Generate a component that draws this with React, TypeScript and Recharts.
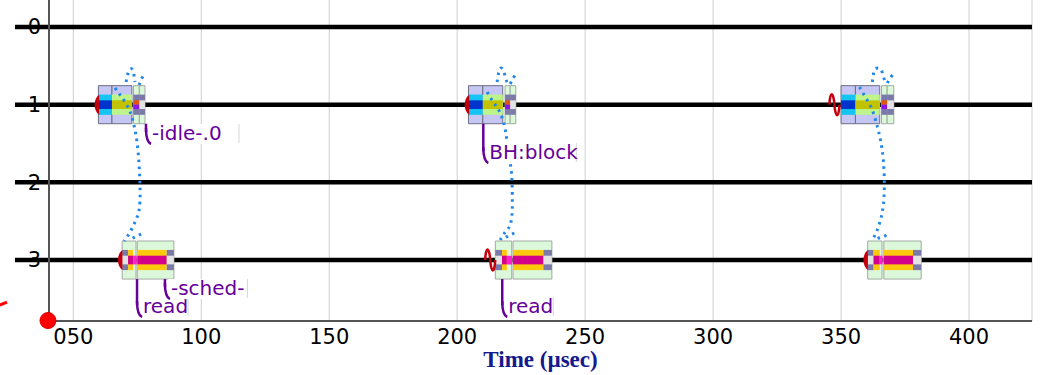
import React from 'react';
import {
  ComposedChart, XAxis, YAxis, CartesianGrid, ReferenceArea, ReferenceLine,
  ReferenceDot, Line, Scatter, Label,
} from 'recharts';

const CPUS = [0, 1, 2, 3];
const TIME_TICKS = [50, 100, 150, 200, 250, 300, 350, 400];
const T_MIN = 40.5;
const T_MAX = 424.6;
const ROW_MIN = -0.348;
const ROW_MAX = 3.785;
const LINE_START = 27.2;

// outer frames of each slice group
const frames = [
  { row: 1, start: 59.8, end: 65.1, kind: 'lav' },
  { row: 1, start: 65.1, end: 72.9, kind: 'lav' },
  { row: 1, start: 73.5, end: 75.8, kind: 'mint' },
  { row: 1, start: 75.8, end: 78.0, kind: 'mint' },
  { row: 1, start: 204.4, end: 210.0, kind: 'lav' },
  { row: 1, start: 210.0, end: 217.8, kind: 'lav' },
  { row: 1, start: 218.7, end: 220.7, kind: 'mint' },
  { row: 1, start: 220.7, end: 222.9, kind: 'mint' },
  { row: 1, start: 350.0, end: 355.6, kind: 'lav' },
  { row: 1, start: 355.6, end: 365.1, kind: 'lav' },
  { row: 1, start: 365.8, end: 368.0, kind: 'mint' },
  { row: 1, start: 368.0, end: 370.6, kind: 'mint' },
  { row: 3, start: 69.1, end: 74.5, kind: 'mint' },
  { row: 3, start: 75.0, end: 89.3, kind: 'mint' },
  { row: 3, start: 214.9, end: 221.3, kind: 'mint' },
  { row: 3, start: 221.8, end: 237.0, kind: 'mint' },
  { row: 3, start: 360.4, end: 366.0, kind: 'mint' },
  { row: 3, start: 366.7, end: 381.3, kind: 'mint' },
];

// coloured slices inside the frames
const slices = [
  { row: 1, start: 59.8, end: 65.1, kind: 'blue' },
  { row: 1, start: 65.1, end: 72.9, kind: 'olive' },
  { row: 1, start: 73.5, end: 75.8, kind: 'split' },
  { row: 1, start: 75.8, end: 78.0, kind: 'idle' },
  { row: 1, start: 204.4, end: 210.0, kind: 'blue' },
  { row: 1, start: 210.0, end: 217.8, kind: 'olive' },
  { row: 1, start: 218.7, end: 220.7, kind: 'split' },
  { row: 1, start: 220.7, end: 222.9, kind: 'idle' },
  { row: 1, start: 350.0, end: 355.6, kind: 'blue' },
  { row: 1, start: 355.6, end: 365.1, kind: 'olive' },
  { row: 1, start: 365.8, end: 368.0, kind: 'split' },
  { row: 1, start: 368.0, end: 370.6, kind: 'idle' },
  { row: 3, start: 69.1, end: 71.4, kind: 'idle' },
  { row: 3, start: 71.4, end: 73.4, kind: 'run' },
  { row: 3, start: 73.4, end: 74.8, kind: 'wake' },
  { row: 3, start: 75.0, end: 86.5, kind: 'run' },
  { row: 3, start: 86.5, end: 89.3, kind: 'idle' },
  { row: 3, start: 214.9, end: 217.5, kind: 'idle' },
  { row: 3, start: 217.5, end: 219.4, kind: 'run' },
  { row: 3, start: 219.4, end: 221.5, kind: 'wake' },
  { row: 3, start: 221.8, end: 233.7, kind: 'run' },
  { row: 3, start: 233.7, end: 237.0, kind: 'idle' },
  { row: 3, start: 360.4, end: 362.7, kind: 'idle' },
  { row: 3, start: 362.7, end: 365.1, kind: 'run' },
  { row: 3, start: 365.1, end: 366.2, kind: 'wake' },
  { row: 3, start: 366.7, end: 378.1, kind: 'run' },
  { row: 3, start: 378.1, end: 381.3, kind: 'idle' },
];

// dotted wakeup arcs (time, cpu row)
const wakeCurves = [
  [{ t: 66.3, row: 0.785 }, { t: 68.3, row: 0.876 }, { t: 70.2, row: 0.966 }, { t: 72.2, row: 1.094 }, { t: 73.7, row: 1.262 }, { t: 74.9, row: 1.481 }, { t: 75.7, row: 1.777 }, { t: 76.1, row: 2.099 }, { t: 75.7, row: 2.356 }, { t: 74.1, row: 2.511 }, { t: 72.2, row: 2.639 }, { t: 69.8, row: 2.755 }],
  [{ t: 70.6, row: 0.708 }, { t: 71.2, row: 0.618 }, { t: 72.0, row: 0.547 }, { t: 73.1, row: 0.547 }, { t: 73.7, row: 0.618 }, { t: 74.1, row: 0.708 }],
  [{ t: 75.7, row: 0.747 }, { t: 76.5, row: 0.682 }, { t: 77.4, row: 0.618 }],
  [{ t: 76.5, row: 2.665 }, { t: 74.9, row: 2.691 }, { t: 73.3, row: 2.717 }, { t: 71.8, row: 2.755 }],
  [{ t: 211.7, row: 0.837 }, { t: 214.1, row: 0.966 }, { t: 216.8, row: 1.107 }, { t: 218.8, row: 1.326 }, { t: 219.9, row: 1.584 }, { t: 221.1, row: 1.841 }, { t: 221.5, row: 2.099 }, { t: 221.5, row: 2.356 }, { t: 220.7, row: 2.549 }, { t: 218.8, row: 2.639 }, { t: 216.8, row: 2.742 }],
  [{ t: 215.6, row: 0.708 }, { t: 216.0, row: 0.618 }, { t: 216.8, row: 0.534 }, { t: 218.0, row: 0.554 }, { t: 218.8, row: 0.644 }, { t: 219.6, row: 0.721 }],
  [{ t: 220.7, row: 0.734 }, { t: 221.9, row: 0.657 }, { t: 222.7, row: 0.618 }],
  [{ t: 222.3, row: 2.652 }, { t: 220.7, row: 2.678 }, { t: 219.2, row: 2.704 }, { t: 217.6, row: 2.742 }],
  [{ t: 357.2, row: 0.773 }, { t: 359.5, row: 0.901 }, { t: 362.2, row: 1.069 }, { t: 364.2, row: 1.288 }, { t: 365.4, row: 1.455 }, { t: 366.5, row: 1.712 }, { t: 366.9, row: 2.034 }, { t: 366.5, row: 2.292 }, { t: 365.4, row: 2.485 }, { t: 363.8, row: 2.639 }, { t: 362.2, row: 2.742 }],
  [{ t: 362.2, row: 0.708 }, { t: 362.6, row: 0.618 }, { t: 363.4, row: 0.541 }, { t: 365.4, row: 0.541 }, { t: 366.5, row: 0.631 }, { t: 367.3, row: 0.708 }],
  [{ t: 368.1, row: 0.721 }, { t: 368.9, row: 0.670 }, { t: 370.1, row: 0.618 }],
  [{ t: 367.7, row: 2.678 }, { t: 366.2, row: 2.704 }, { t: 364.6, row: 2.717 }, { t: 363.0, row: 2.742 }],
];

const markers = [
  { t: 59.3, row: 1, kind: 'arc' },
  { t: 203.9, row: 1, kind: 'arc' },
  { t: 347.4, row: 1, kind: 'wave' },
  { t: 68.4, row: 3, kind: 'arc' },
  { t: 212.9, row: 3, kind: 'wave' },
  { t: 359.7, row: 3, kind: 'arc' },
];

const tags = [
  { t: 78.4, row: 1, base: 1.455, text: '-idle-.0' },
  { t: 210.2, row: 1, base: 1.70, text: 'BH:block' },
  { t: 74.9, row: 3, base: 3.682, text: 'read' },
  { t: 85.8, row: 3, base: 3.451, text: '-sched-' },
  { t: 217.6, row: 3, base: 3.682, text: 'read' },
];

const FRAME_STYLE: Record<string, { fill: string; stroke: string }> = {
  lav: { fill: '#c6c6f5', stroke: '#6e6e82' },
  mint: { fill: '#dcf8da', stroke: '#a2aaa2' },
};

const SLICE_STYLE: Record<string, { band: string | null; core: string[] }> = {
  blue: { band: '#14c4f2', core: ['#0034cc'] },
  olive: { band: '#bef58a', core: ['#c2c200'] },
  split: { band: '#7b79a8', core: ['#e0560a', '#8c14e6'] },
  idle: { band: '#7b79a8', core: ['#e3e3e3'] },
  run: { band: '#ffc80c', core: ['#d2008a'] },
  wake: { band: null, core: ['#ff1ecd'] },
};

const OUTER = 0.245;
const BAND = 0.13;
const CORE = 0.056;
const PURPLE = '#660099';
const FONT = 'DejaVu Sans';

function MarkerShape(props: any) {
  const { cx, cy, payload } = props;
  if (payload.kind === 'wave') {
    return (
      <path
        d={`M${cx - 5},${cy} C${cx - 4.5},${cy - 14} ${cx - 1},${cy - 14} ${cx},${cy} S${cx + 4.5},${cy + 14} ${cx + 5},${cy}`}
        fill="none" stroke="#c4000c" strokeWidth={2.5}
      />
    );
  }
  return <path d={`M${cx + 2},${cy - 10} C${cx - 4},${cy - 6} ${cx - 4},${cy + 6} ${cx + 2},${cy + 10} Z`} fill="#c4000c" />;
}

function TagShape(props: any) {
  const { cx, cy, payload } = props;
  const w = payload.text.length * 10.5 + 6;
  return (
    <g>
      <rect x={cx + 3} y={cy - 16} width={w} height={20} fill="#fff" />
      <line x1={cx + 3 + w} y1={cy - 16} x2={cx + 3 + w} y2={cy + 3} stroke="#d6d6d6" />
      <path d={`M${cx},${cy - 12} Q${cx},${cy + 2} ${cx + 5},${cy + 4}`} fill="none" stroke={PURPLE} strokeWidth={2.5} />
      <text x={cx + 6} y={cy} fontSize={20} fontFamily={FONT} fill={PURPLE}>{payload.text}</text>
    </g>
  );
}

export default function App() {
  return (
    <div style={{ position: 'absolute', left: 0, top: 0 }}>
      <ComposedChart width={1046} height={375} margin={{ top: 0, right: 14, bottom: 0, left: 0 }}>
        <CartesianGrid horizontal={false} stroke="#cfcfcf" />
        <XAxis
          type="number" dataKey="t" domain={[T_MIN, T_MAX]} allowDataOverflow ticks={TIME_TICKS} interval={0}
          tickFormatter={(v) => String(v).padStart(3, '0')}
          tick={{ fontSize: 21, fill: '#000', fontFamily: FONT }} tickLine={false}
          axisLine={{ stroke: '#555', strokeWidth: 2 }} height={54}
        >
          <Label value="Time (µsec)" position="insideBottom" offset={8}
            style={{ fontSize: 23, fontWeight: 'bold', fontFamily: 'Liberation Serif', fill: '#14198c' }} />
        </XAxis>
        <YAxis
          type="number" dataKey="row" domain={[ROW_MIN, ROW_MAX]} reversed allowDataOverflow ticks={CPUS} interval={0}
          tick={{ fontSize: 21, fill: '#000', fontFamily: FONT }} tickLine={false}
          axisLine={{ stroke: '#555', strokeWidth: 2 }} width={49}
        />

        {CPUS.map((c) => (
          <ReferenceArea key={`cpu${c}`} x1={LINE_START} x2={T_MAX} y1={c - 0.029} y2={c + 0.029}
            fill="#000" fillOpacity={1} ifOverflow="visible" />
        ))}

        {frames.map((f, i) => (
          <ReferenceArea key={`f${i}`} x1={f.start} x2={f.end} y1={f.row - OUTER} y2={f.row + OUTER}
            fill={FRAME_STYLE[f.kind].fill} fillOpacity={1} stroke={FRAME_STYLE[f.kind].stroke} strokeWidth={1} />
        ))}

        {slices.map((s, i) => {
          const st = SLICE_STYLE[s.kind];
          return st.band ? (
            <ReferenceArea key={`b${i}`} x1={s.start} x2={s.end} y1={s.row - BAND} y2={s.row + BAND}
              fill={st.band} fillOpacity={1} />
          ) : null;
        })}

        {slices.map((s, i) => {
          const st = SLICE_STYLE[s.kind];
          if (st.core.length === 2) {
            return [
              <ReferenceArea key={`c${i}a`} x1={s.start} x2={s.end} y1={s.row - CORE} y2={s.row} fill={st.core[0]} fillOpacity={1} />,
              <ReferenceArea key={`c${i}b`} x1={s.start} x2={s.end} y1={s.row} y2={s.row + CORE} fill={st.core[1]} fillOpacity={1} />,
            ];
          }
          return (
            <ReferenceArea key={`c${i}`} x1={s.start} x2={s.end} y1={s.row - CORE} y2={s.row + CORE}
              fill={st.core[0]} fillOpacity={1} />
          );
        })}

        {tags.map((g, i) => (
          <ReferenceLine key={`stem${i}`} segment={[{ x: g.t, y: g.row + OUTER }, { x: g.t, y: g.base - 0.1 }]}
            stroke={PURPLE} strokeWidth={2.5} ifOverflow="visible" />
        ))}

        {wakeCurves.map((pts, i) => (
          <Line key={`w${i}`} data={pts} dataKey="row" type="natural" stroke="#1f86ea" strokeWidth={3}
            strokeDasharray="2.5 4.5" dot={false} activeDot={false} isAnimationActive={false} legendType="none" />
        ))}

        <Scatter data={markers} shape={MarkerShape} isAnimationActive={false} />
        <Scatter data={tags.map((g) => ({ t: g.t, row: g.base, text: g.text }))} shape={TagShape} isAnimationActive={false} />

        <ReferenceLine segment={[{ x: 21.3, y: 3.579 }, { x: 24.1, y: 3.541 }]} stroke="#ff0000" strokeWidth={3} ifOverflow="visible" />
        <ReferenceDot x={40.1} y={3.779} r={8} fill="#ff0000" stroke="#e00000" ifOverflow="visible" />
      </ComposedChart>
    </div>
  );
}
